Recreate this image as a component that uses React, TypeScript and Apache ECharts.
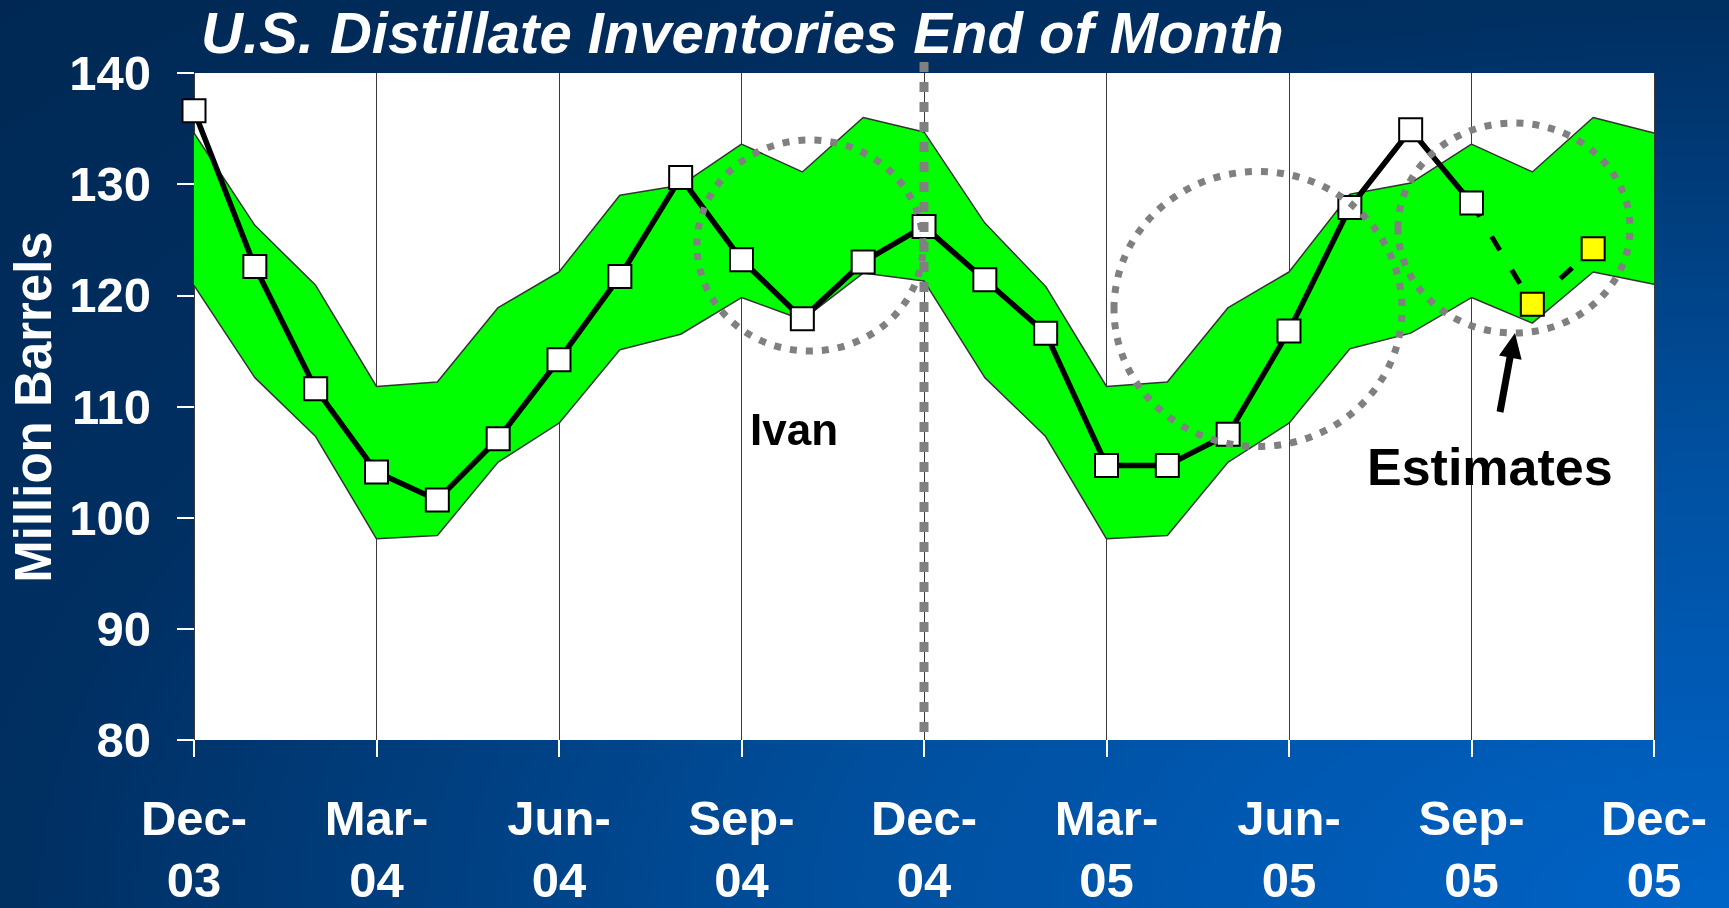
import React, { useEffect, useRef } from "react";
import * as echarts from "echarts";

// ---- data ----
const categories = [
  "Dec-03", "Jan-04", "Feb-04", "Mar-04", "Apr-04", "May-04", "Jun-04", "Jul-04", "Aug-04",
  "Sep-04", "Oct-04", "Nov-04", "Dec-04", "Jan-05", "Feb-05", "Mar-05", "Apr-05", "May-05",
  "Jun-05", "Jul-05", "Aug-05", "Sep-05", "Oct-05", "Nov-05", "Dec-05",
];

// actual end-of-month inventories (million barrels)
const actualValues: (number | null)[] = [
  136.6, 122.6, 111.6, 104.1, 101.6, 107.1, 114.2, 121.7, 130.6, 123.2, 117.9, 123.0,
  126.2, 121.4, 116.6, 104.7, 104.7, 107.5, 116.8, 127.9, 134.9, 128.3, null, null, null,
];

// estimates (Sep-05 is the anchor of the dashed line)
const estimateValues: (number | null)[] = [
  null, null, null, null, null, null, null, null, null, null, null, null,
  null, null, null, null, null, null, null, null, null, 128.3, 119.2, 124.2, null,
];

// normal range band
const bandUpper = [
  134.6, 126.3, 120.9, 111.8, 112.2, 118.9, 122.1, 129.0, 129.9, 133.6, 131.1, 136.0,
  134.7, 126.5, 120.8, 111.8, 112.2, 118.9, 122.1, 129.1, 130.1, 133.6, 131.1, 136.0, 134.6,
];
const bandLower = [
  120.9, 112.6, 107.3, 98.1, 98.4, 105.0, 108.5, 115.1, 116.5, 119.8, 117.8, 122.0,
  121.3, 112.6, 107.3, 98.1, 98.4, 105.0, 108.5, 115.2, 116.6, 119.8, 117.5, 122.1, 121.0,
];

const yTicks = { min: 80, max: 140, interval: 10 };

const FONT = "'Liberation Sans', Arial, sans-serif";

export default function App() {
  const ref = useRef<HTMLDivElement>(null);

  useEffect(() => {
    if (!ref.current) return;
    const chart = echarts.init(ref.current, undefined, { renderer: "svg" });

    const bandRange = bandUpper.map((u, i) => Math.round((u - bandLower[i]) * 10) / 10);
    const estimateData = estimateValues.map((v, i) =>
      v !== null && actualValues[i] !== null ? { value: v, symbol: "none" } : v
    );

    const dotted = { stroke: "#808080", lineWidth: 7, lineDash: [7, 9], fill: "none" };
    const labelFont = {
      color: "#ffffff",
      fontFamily: FONT,
      fontWeight: "bold",
      fontSize: 49,
    };

    chart.setOption({
      animation: false,
      backgroundColor: "transparent",
      grid: {
        left: 194,
        right: 75,
        top: 73,
        bottom: 168,
        outerBoundsMode: "none",
        containLabel: false,
        show: true,
        backgroundColor: "#ffffff",
        borderWidth: 0,
      },
      xAxis: {
        type: "category",
        data: categories,
        boundaryGap: false,
        axisLine: { show: false },
        axisTick: {
          show: true,
          interval: 2,
          length: 17,
          lineStyle: { color: "#ffffff", width: 2 },
        },
        axisLabel: {
          interval: 2,
          ...labelFont,
          margin: 35,
          formatter: (v: string) => {
            const [m, y] = v.split("-");
            return `{m|${m}-}\n{y|${y}}`;
          },
          rich: {
            m: { ...labelFont, lineHeight: 85 },
            y: { ...labelFont, lineHeight: 40 },
          },
        },
        splitLine: {
          show: true,
          interval: 2,
          lineStyle: { color: "#3a3a3a", width: 1 },
        },
      },
      yAxis: {
        type: "value",
        min: yTicks.min,
        max: yTicks.max,
        interval: yTicks.interval,
        axisLine: { show: false },
        axisTick: {
          show: true,
          length: 17,
          lineStyle: { color: "#ffffff", width: 2 },
        },
        axisLabel: {
          ...labelFont,
          margin: 43,
        },
        splitLine: { show: false },
      },
      series: [
        {
          name: "lower",
          type: "line",
          data: bandLower,
          stack: "band",
          symbol: "none",
          silent: true,
          lineStyle: { color: "#333333", width: 1.5 },
          z: 3,
        },
        {
          name: "range",
          type: "line",
          data: bandRange,
          stack: "band",
          symbol: "none",
          silent: true,
          lineStyle: { color: "#333333", width: 1.5 },
          areaStyle: { color: "#00ff00", opacity: 1 },
          z: 2,
        },
        {
          name: "estimates",
          type: "line",
          data: estimateData,
          symbol: "rect",
          symbolSize: 23,
          showAllSymbol: true,
          lineStyle: { color: "#000000", width: 5, type: [16, 23] },
          itemStyle: { color: "#ffff00", borderColor: "#000000", borderWidth: 2 },
          z: 4,
        },
        {
          name: "actual",
          type: "line",
          data: actualValues,
          symbol: "rect",
          symbolSize: 23,
          showAllSymbol: true,
          lineStyle: { color: "#000000", width: 5.5 },
          itemStyle: { color: "#ffffff", borderColor: "#000000", borderWidth: 2 },
          z: 5,
        },
      ],
      graphic: [
        {
          type: "text",
          x: 201,
          y: 32,
          z: 100,
          style: {
            text: "U.S. Distillate Inventories End of Month",
            fill: "#ffffff",
            fontFamily: FONT,
            fontWeight: "bold",
            fontStyle: "italic",
            fontSize: 58,
            align: "left",
            verticalAlign: "middle",
          },
        },
        {
          type: "text",
          x: 33,
          y: 407,
          rotation: Math.PI / 2,
          z: 100,
          style: {
            text: "Million Barrels",
            fill: "#ffffff",
            fontFamily: FONT,
            fontWeight: "bold",
            fontSize: 51,
            align: "center",
            verticalAlign: "middle",
          },
        },
        {
          type: "line",
          z: 100,
          shape: { x1: 924, y1: 62, x2: 924, y2: 740 },
          style: { stroke: "#808080", lineWidth: 9, lineDash: [10, 10] },
        },
        { type: "ellipse", z: 100, shape: { cx: 810, cy: 245.5, rx: 113, ry: 105.5 }, style: dotted },
        { type: "ellipse", z: 100, shape: { cx: 1258, cy: 309, rx: 144, ry: 137.5 }, style: dotted },
        { type: "ellipse", z: 100, shape: { cx: 1514, cy: 228, rx: 116, ry: 105 }, style: dotted },
        {
          type: "text",
          x: 750,
          y: 429,
          z: 100,
          style: {
            text: "Ivan",
            fill: "#000000",
            fontFamily: FONT,
            fontWeight: "bold",
            fontSize: 44,
            align: "left",
            verticalAlign: "middle",
          },
        },
        {
          type: "text",
          x: 1367,
          y: 467,
          z: 100,
          style: {
            text: "Estimates",
            fill: "#000000",
            fontFamily: FONT,
            fontWeight: "bold",
            fontSize: 52,
            align: "left",
            verticalAlign: "middle",
          },
        },
        {
          type: "line",
          z: 100,
          shape: { x1: 1500, y1: 412, x2: 1511, y2: 352 },
          style: { stroke: "#000000", lineWidth: 7 },
        },
        {
          type: "polygon",
          z: 100,
          shape: { points: [[1515, 333], [1521.6, 359.7], [1499, 355.4]] },
          style: { fill: "#000000" },
        },
      ],
    });

    return () => {
      chart.dispose();
    };
  }, []);

  return (
    <div
      style={{
        position: "fixed",
        left: 0,
        top: 0,
        width: 1729,
        height: 908,
        background:
          "radial-gradient(2445px 1284px at 100% 100%, #0064c8 0%, #0050a0 35%, #002f62 70%, #002853 100%)",
      }}
    >
      <div ref={ref} style={{ width: 1729, height: 908 }} />
    </div>
  );
}
